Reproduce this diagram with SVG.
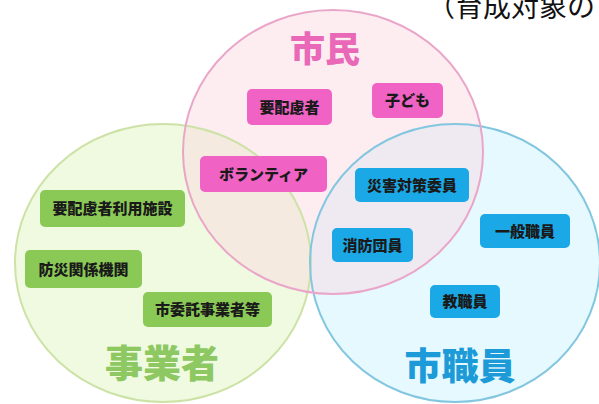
<svg xmlns="http://www.w3.org/2000/svg" width="599" height="404" viewBox="0 0 599 404">
<style>
  .t { font-family: "Noto Sans CJK JP", "Noto Sans", sans-serif; }
  .box-text { font-family: "Noto Sans CJK JP", "Noto Sans", sans-serif; font-weight: 900; font-size: 15px; fill: #1a1a1a; text-anchor: middle; }
  .set-label { font-family: "Noto Sans CJK JP", "Noto Sans", sans-serif; font-weight: 900; text-anchor: middle; }
  .pk { fill: #f063c4; }
  .gr { fill: #8bc957; }
  .bl { fill: #1aa8e6; }
</style>
<rect width="599" height="404" fill="#ffffff"/>
<g id="sets-fill">
  <ellipse cx="163" cy="263" rx="148" ry="139" fill="#e2f5c6" fill-opacity="0.55"/>
  <ellipse cx="455" cy="263" rx="145" ry="139" fill="#ccf3ff" fill-opacity="0.5"/>
  <ellipse cx="333" cy="152" rx="150" ry="142" fill="#fad6e0" fill-opacity="0.45"/>
</g>
<g id="sets-stroke" fill="none" stroke-width="2">
  <ellipse cx="163" cy="263" rx="148" ry="139" stroke="#cde2a6"/>
  <ellipse cx="455" cy="263" rx="145" ry="139" stroke="#82c6df"/>
  <ellipse cx="333" cy="152" rx="150" ry="142" stroke="#e9a6c8"/>
</g>
<text class="t" x="427" y="17" font-size="28" fill="#111111">（育成対象の</text>
<g id="label-shimin"><text class="set-label" x="325" y="62" font-size="35" fill="#e968b8">市民</text></g>
<g id="label-jigyosha"><text class="set-label" x="162" y="377" font-size="38" fill="#8dc862">事業者</text></g>
<g id="label-shokuin"><text class="set-label" x="460" y="380" font-size="37" fill="#1c9bd8">市職員</text></g>
<g id="connectors"/>
<g id="n-yohairyo"><rect class="pk" x="247" y="89" width="85" height="36" rx="5"/><text class="box-text" x="289.5" y="112.5">要配慮者</text></g>
<g id="n-kodomo"><rect class="pk" x="372" y="83" width="71" height="35" rx="5"/><text class="box-text" x="407.5" y="106">子ども</text></g>
<g id="n-volunteer"><rect class="pk" x="200" y="156" width="127" height="36" rx="5"/><text class="box-text" x="263.5" y="179.5">ボランティア</text></g>
<g id="n-shisetsu"><rect class="gr" x="40" y="190" width="145" height="37" rx="5"/><text class="box-text" x="112.5" y="214">要配慮者利用施設</text></g>
<g id="n-bosai"><rect class="gr" x="25" y="250" width="117" height="38" rx="5"/><text class="box-text" x="83.5" y="274.5">防災関係機関</text></g>
<g id="n-itaku"><rect class="gr" x="143" y="292" width="129" height="35" rx="5"/><text class="box-text" x="207.5" y="315">市委託事業者等</text></g>
<g id="n-saigai"><rect class="bl" x="355" y="168" width="114" height="34" rx="5"/><text class="box-text" x="412" y="190.5">災害対策委員</text></g>
<g id="n-shobo"><rect class="bl" x="332" y="228" width="81" height="34" rx="5"/><text class="box-text" x="372.5" y="250.5">消防団員</text></g>
<g id="n-ippan"><rect class="bl" x="480" y="214" width="90" height="34" rx="5"/><text class="box-text" x="525" y="236.5">一般職員</text></g>
<g id="n-kyoshoku"><rect class="bl" x="430" y="285" width="70" height="33" rx="5"/><text class="box-text" x="465" y="307">教職員</text></g>
</svg>
